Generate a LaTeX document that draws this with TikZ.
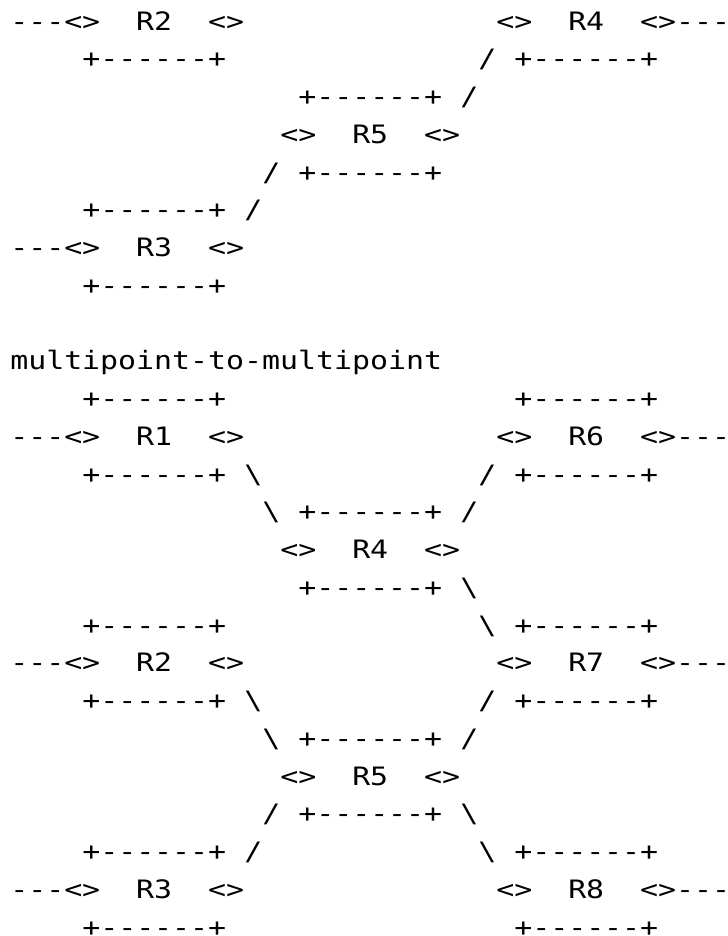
\documentclass[tikz,border=0pt]{standalone}
\usepackage{fontspec}
\setmonofont[FakeStretch=1.18]{DejaVu Sans Mono}
\usepackage{tikz}

\begin{document}
\begin{tikzpicture}[x=13.5pt, y=-28.3125pt,
    txt/.style={font=\ttfamily\fontsize{19pt}{22pt}\selectfont, inner sep=0pt, anchor=base west}]
        % Page frame (one unit = one character cell, one row = one text line)
        \useasboundingbox (-7.5pt,22.5pt) rectangle (538.5pt,-679.5pt);

        % Upper part: tail of the previous figure
        \node[txt] (uR2) at (0,0) {---<>~~R2~~<>};
        \node[txt] (uR4) at (27,0) {<>~~R4~~<>---};
        \node[txt] (uR2bot) at (4,1) {+------+};
        \node[txt] (uR4link) at (26,1) {/};
        \node[txt] (uR4bot) at (28,1) {+------+};
        \node[txt] (uR5top) at (16,2) {+------+};
        \node[txt] (uR5link) at (25,2) {/};
        \node[txt] (uR5) at (15,3) {<>~~R5~~<>};
        \node[txt] (uR3link) at (14,4) {/};
        \node[txt] (uR5bot) at (16,4) {+------+};
        \node[txt] (uR3top) at (4,5) {+------+};
        \node[txt] (uR5link2) at (13,5) {/};
        \node[txt] (uR3) at (0,6) {---<>~~R3~~<>};
        \node[txt] (uR3bot) at (4,7) {+------+};

        % Title of the lower part
        \node[txt] (title) at (0,9) {multipoint-to-multipoint};

        % R1 and R6
        \node[txt] (R1top) at (4,10) {+------+};
        \node[txt] (R6top) at (28,10) {+------+};
        \node[txt] (R1) at (0,11) {---<>~~R1~~<>};
        \node[txt] (R6) at (27,11) {<>~~R6~~<>---};
        \node[txt] (R1bot) at (4,12) {+------+};
        \node[txt] (R1link) at (13,12) {\textbackslash};
        \node[txt] (R6link) at (26,12) {/};
        \node[txt] (R6bot) at (28,12) {+------+};

        % R4 in the middle
        \node[txt] (R4link1) at (14,13) {\textbackslash};
        \node[txt] (R4top) at (16,13) {+------+};
        \node[txt] (R4link2) at (25,13) {/};
        \node[txt] (R4) at (15,14) {<>~~R4~~<>};
        \node[txt] (R4bot) at (16,15) {+------+};
        \node[txt] (R4link3) at (25,15) {\textbackslash};

        % R2 and R7
        \node[txt] (R2top) at (4,16) {+------+};
        \node[txt] (R7link1) at (26,16) {\textbackslash};
        \node[txt] (R7top) at (28,16) {+------+};
        \node[txt] (R2) at (0,17) {---<>~~R2~~<>};
        \node[txt] (R7) at (27,17) {<>~~R7~~<>---};
        \node[txt] (R2bot) at (4,18) {+------+};
        \node[txt] (R2link) at (13,18) {\textbackslash};
        \node[txt] (R7link2) at (26,18) {/};
        \node[txt] (R7bot) at (28,18) {+------+};

        % R5 in the middle
        \node[txt] (R5link1) at (14,19) {\textbackslash};
        \node[txt] (R5top) at (16,19) {+------+};
        \node[txt] (R5link2) at (25,19) {/};
        \node[txt] (R5) at (15,20) {<>~~R5~~<>};
        \node[txt] (R5link3) at (14,21) {/};
        \node[txt] (R5bot) at (16,21) {+------+};
        \node[txt] (R5link4) at (25,21) {\textbackslash};

        % R3 and R8
        \node[txt] (R3top) at (4,22) {+------+};
        \node[txt] (R3link) at (13,22) {/};
        \node[txt] (R8link) at (26,22) {\textbackslash};
        \node[txt] (R8top) at (28,22) {+------+};
        \node[txt] (R3) at (0,23) {---<>~~R3~~<>};
        \node[txt] (R8) at (27,23) {<>~~R8~~<>---};
        \node[txt] (R3bot) at (4,24) {+------+};
        \node[txt] (R8bot) at (28,24) {+------+};
    \end{tikzpicture}
\end{document}
